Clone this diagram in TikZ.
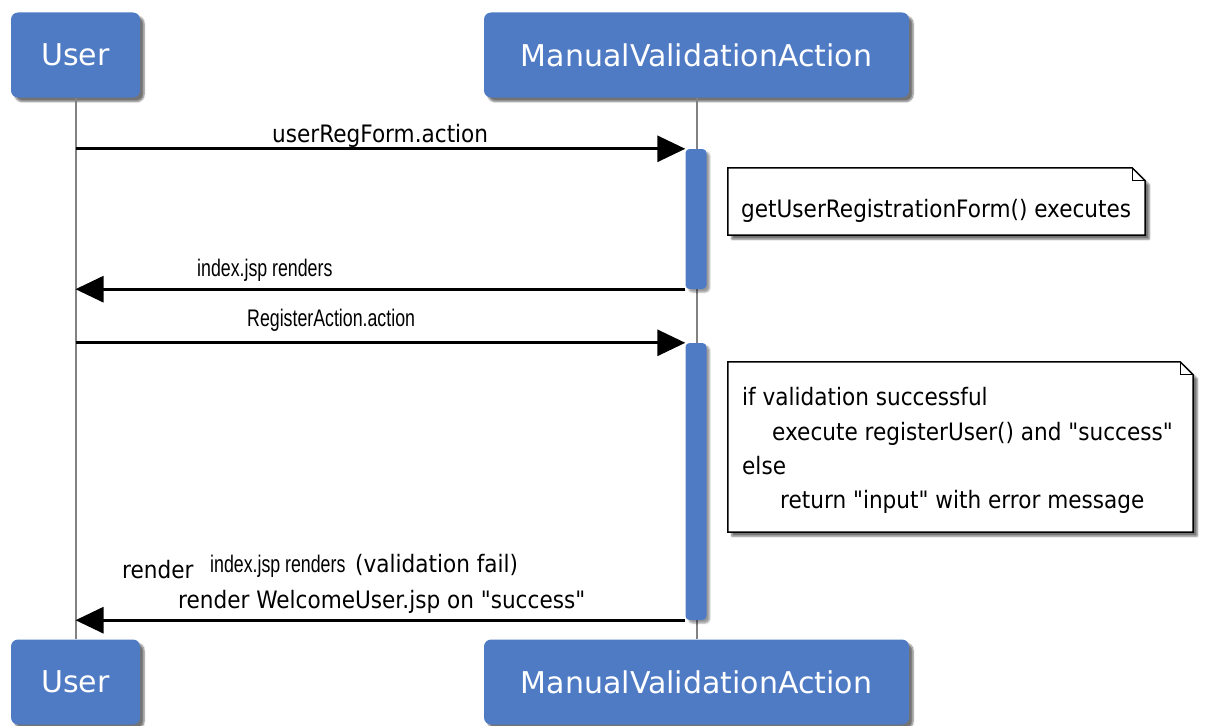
\documentclass[tikz,border=0pt]{standalone}
\usepackage{fontspec}
\usetikzlibrary{arrows.meta,shadows.blur}
\newfontfamily\titlefont{DejaVu Sans}
\newfontfamily\msgfont[FakeStretch=0.9]{DejaVu Sans}
\newfontfamily\narrowfont[FakeStretch=0.74]{Liberation Sans}
\definecolor{boxblue}{RGB}{79,123,197}
\definecolor{lifegray}{RGB}{130,130,130}
\begin{document}
\begin{tikzpicture}[x=1pt,y=-1pt,
  actor/.style={fill=boxblue, rounded corners=7pt, minimum height=85pt, inner sep=0pt,
    text=white, font=\titlefont\fontsize{30}{36}\selectfont,
    blur shadow={shadow xshift=4pt, shadow yshift=-4pt, shadow blur steps=6, shadow opacity=55}},
  actbar/.style={fill=boxblue, rounded corners=4pt, minimum width=21pt, inner sep=0pt,
    blur shadow={shadow xshift=3pt, shadow yshift=-3pt, shadow blur steps=4, shadow opacity=40}},
  life/.style={draw=lifegray, line width=2pt},
  msg/.style={line width=3pt, -{Triangle[length=28pt,width=26pt]}},
  lbl/.style={anchor=base west, inner sep=0pt, font=\msgfont\fontsize{24}{30}\selectfont},
  nlbl/.style={anchor=base west, inner sep=0pt, font=\narrowfont\fontsize{24}{30}\selectfont},
  notebox/.style={inner sep=0pt},
  notedraw/.style={draw=black, line width=1.5pt, fill=white,
    blur shadow={shadow xshift=4pt, shadow yshift=-4pt, shadow blur steps=6, shadow opacity=55}},
  foldline/.style={draw=black, line width=1pt}
]
\useasboundingbox (0,0) rectangle (1206,725);

% lifelines (drawn first, behind boxes)
\node[actor, minimum width=129pt] (ut) at (75.5,55) {User};
\node[actor, minimum width=425pt] (mt) at (696.5,55) {ManualValidationAction};
\node[actor, minimum width=129pt] (ub) at (75.5,682) {User};
\node[actor, minimum width=425pt] (mb) at (696.5,682) {ManualValidationAction};

\begin{scope}[on background layer/.style={}]
\end{scope}

\draw[life] (ut.south) -- (ub.north);
\draw[life] (mt.south) -- (mb.north);

% activation bars
\node[actbar, minimum height=140pt] (bar1) at (696,219) {};
\node[actbar, minimum height=277pt] (bar2) at (696,481.5) {};

% messages
\draw[msg] (ut |- bar1.north) -- (bar1.north west);
\draw[msg] (bar1.south west) -- (ut |- bar1.south);
\draw[msg] (ut |- bar2.north) -- (bar2.north west);
\draw[msg] (bar2.south west) -- (ut |- bar2.south);

% message labels
\node[lbl] (l1) at (272,142) {userRegForm.action};
\node[nlbl] (l2) at (197,276) {index.jsp renders};
\node[nlbl] (l3) at (247,326) {RegisterAction.action};
\node[lbl] (l4a) at (122,578) {render};
\node[nlbl] (l4b) at (210,572) {index.jsp renders};
\node[lbl] (l4c) at (355,572) {(validation fail)};
\node[lbl] (l4d) at (178,608) {render WelcomeUser.jsp on "success"};

% note 1
\node[notebox, minimum width=417pt, minimum height=67pt] (n1) at (936.5,201.5) {};
\draw[notedraw] (n1.north west) -- ([xshift=-13pt]n1.north east) -- ([yshift=-13pt]n1.north east)
  -- (n1.south east) -- (n1.south west) -- cycle;
\draw[foldline] ([xshift=-13pt]n1.north east) -- ([xshift=-13pt,yshift=-13pt]n1.north east)
  -- ([yshift=-13pt]n1.north east);
\node[lbl] (t1) at (741,217) {getUserRegistrationForm() executes};

% note 2
\node[notebox, minimum width=465pt, minimum height=170pt] (n2) at (960.5,447) {};
\draw[notedraw] (n2.north west) -- ([xshift=-13pt]n2.north east) -- ([yshift=-13pt]n2.north east)
  -- (n2.south east) -- (n2.south west) -- cycle;
\draw[foldline] ([xshift=-13pt]n2.north east) -- ([xshift=-13pt,yshift=-13pt]n2.north east)
  -- ([yshift=-13pt]n2.north east);
\node[lbl] (t2a) at (742,405) {if validation successful};
\node[lbl] (t2b) at (772,440) {execute registerUser() and "success"};
\node[lbl] (t2c) at (742,474) {else};
\node[lbl] (t2d) at (780,508) {return "input" with error message};
\end{tikzpicture}
\end{document}
